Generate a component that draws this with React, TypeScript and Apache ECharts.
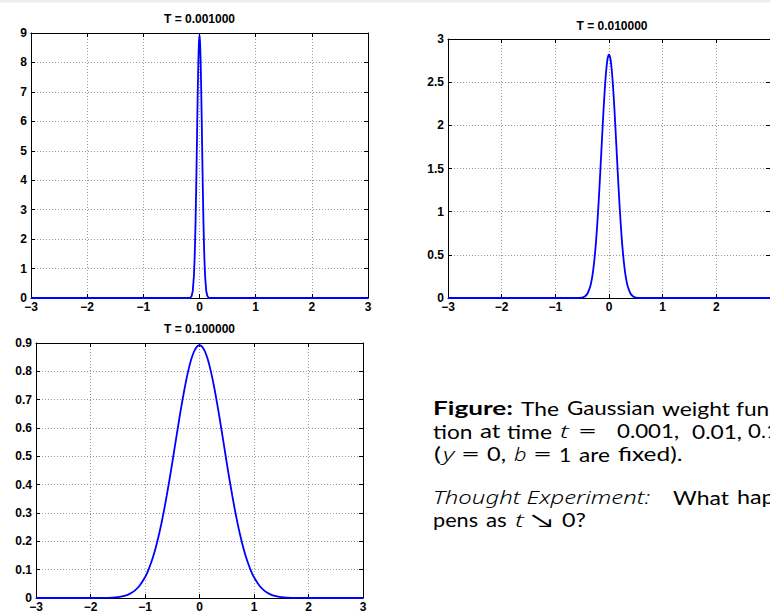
import React, { useEffect, useRef } from "react";
import * as echarts from "echarts";

// ---- data ----
const titles = ["T = 0.001000", "T = 0.010000", "T = 0.100000"];

const x1 = [-3, -0.2, -0.16, -0.14, -0.12, -0.1, -0.09, -0.08, -0.07, -0.06, -0.05, -0.04, -0.03, -0.02, -0.01, 0,
  0.01, 0.02, 0.03, 0.04, 0.05, 0.06, 0.07, 0.08, 0.09, 0.1, 0.12, 0.14, 0.16, 0.2, 3];
const y1 = [0, 0, 0.015, 0.066, 0.24, 0.73, 1.18, 1.8, 2.62, 3.63, 4.77, 5.98, 7.12, 8.07, 8.7, 8.92,
  8.7, 8.07, 7.12, 5.98, 4.77, 3.63, 2.62, 1.8, 1.18, 0.73, 0.24, 0.066, 0.015, 0, 0];

const x2 = [-3, -0.6, -0.5, -0.45, -0.4, -0.35, -0.325, -0.3, -0.275, -0.25, -0.225, -0.2, -0.175, -0.15, -0.125, -0.1, -0.075, -0.05, -0.025, 0,
  0.025, 0.05, 0.075, 0.1, 0.125, 0.15, 0.175, 0.2, 0.225, 0.25, 0.275, 0.3, 0.325, 0.35, 0.4, 0.45, 0.5, 0.6, 3];
const y2 = [0, 0, 0.005, 0.018, 0.052, 0.132, 0.201, 0.297, 0.426, 0.59, 0.796, 1.04, 1.312, 1.61, 1.909, 2.2, 2.451, 2.65, 2.777, 2.82,
  2.777, 2.65, 2.451, 2.2, 1.909, 1.61, 1.312, 1.04, 0.796, 0.59, 0.426, 0.297, 0.201, 0.132, 0.052, 0.018, 0.005, 0, 0];

const x3 = [-3, -2, -1.8, -1.6, -1.5, -1.4, -1.3, -1.2, -1.1, -1.0, -0.95, -0.9, -0.85, -0.8, -0.75, -0.7, -0.65, -0.6, -0.55, -0.5, -0.45,
  -0.4, -0.35, -0.3, -0.25, -0.2, -0.15, -0.1, -0.05, 0,
  0.05, 0.1, 0.15, 0.2, 0.25, 0.3, 0.35, 0.4, 0.45, 0.5, 0.55, 0.6, 0.65, 0.7, 0.75, 0.8, 0.85, 0.9, 0.95, 1.0,
  1.1, 1.2, 1.3, 1.4, 1.5, 1.6, 1.8, 2, 3];
const y3 = [0, 0, 0.0003, 0.0015, 0.0032, 0.0066, 0.013, 0.0244, 0.0433, 0.0732, 0.0934, 0.118, 0.1466, 0.18, 0.2186, 0.262, 0.3102, 0.363, 0.4187, 0.477, 0.5377,
  0.598, 0.6567, 0.712, 0.763, 0.807, 0.8432, 0.87, 0.8865, 0.892,
  0.8865, 0.87, 0.8432, 0.807, 0.763, 0.712, 0.6567, 0.598, 0.5377, 0.477, 0.4187, 0.363, 0.3102, 0.262, 0.2186, 0.18, 0.1466, 0.118, 0.0934, 0.0732,
  0.0433, 0.0244, 0.013, 0.0066, 0.0032, 0.0015, 0.0003, 0, 0];

const yMax = [9, 3, 0.9];
const yStep = [1, 0.5, 0.1];

const FONT = "Liberation Sans";
const TEXTFONT = "Lato";
const ITFONT = "Noto Sans";

function zip(xs: number[], ys: number[]) {
  return xs.map((x, i) => [x, ys[i]]);
}

export default function App() {
  const ref = useRef<HTMLDivElement>(null);
  useEffect(() => {
    if (!ref.current) return;
    const chart = echarts.init(ref.current, undefined, { renderer: "svg" });
    const grids = [
      { left: 31, top: 33, width: 337, height: 265 },
      { left: 448, top: 39, width: 328, height: 259 },
      { left: 36, top: 343, width: 327, height: 259 },
    ];
    const lineStyle = { color: "#000", width: 1 };
    const tick = { show: true, inside: true, length: 4, lineStyle: { color: "#000", width: 1 } };
    const split = { show: true, lineStyle: { color: "#9a9a9a", width: 1, type: [1, 2] as any } };
    const label = { color: "#000", fontWeight: "bold" as const, fontSize: 12, fontFamily: FONT };
    const xFmt = (v: number) => (v < 0 ? "\u2212" + -v : String(v));
    const yFmt = (v: number) => String(+v.toFixed(1));

    const xAxis: any[] = [];
    const yAxis: any[] = [];
    const series: any[] = [];
    const data = [zip(x1, y1), zip(x2, y2), zip(x3, y3)];
    grids.forEach((g, i) => {
      xAxis.push({
        type: "value", gridIndex: i, min: -3, max: 3, interval: 1, position: "bottom",
        axisLine: { show: true, onZero: false, lineStyle }, axisTick: tick,
        axisLabel: { ...label, margin: 3, formatter: xFmt, showMaxLabel: i !== 1 }, splitLine: split,
      });
      xAxis.push({
        type: "value", gridIndex: i, min: -3, max: 3, interval: 1, position: "top",
        axisLine: { show: true, onZero: false, lineStyle }, axisTick: tick,
        axisLabel: { show: false }, splitLine: { show: false },
      });
      yAxis.push({
        type: "value", gridIndex: i, min: 0, max: yMax[i], interval: yStep[i], position: "left",
        axisLine: { show: true, onZero: false, lineStyle }, axisTick: tick,
        axisLabel: { ...label, margin: 4, formatter: yFmt }, splitLine: split,
      });
      yAxis.push({
        type: "value", gridIndex: i, min: 0, max: yMax[i], interval: yStep[i], position: "right",
        axisLine: { show: true, onZero: false, lineStyle }, axisTick: tick,
        axisLabel: { show: false }, splitLine: { show: false },
      });
      series.push({
        type: "line", xAxisIndex: i * 2, yAxisIndex: i * 2, data: data[i],
        showSymbol: false, symbol: "none", clip: false, smooth: i === 0 ? false : 0.2,
        lineStyle: { color: "#0000ff", width: 1.8 }, z: 5,
      });
    });

    // body text: the reference is horizontally stretched; each word is widened to its measured span
    const styleFor = (text: string, kind: string) => ({
      text, fill: "#000", fontSize: 19,
      fontFamily: kind === "it" ? ITFONT : TEXTFONT,
      fontStyle: kind === "it" ? "italic" : "normal",
      fontWeight: kind === "bold" ? "bold" : kind === "it" ? 300 : "normal",
      verticalAlign: "middle",
    });
    const w = (x: number, y: number, text: string, width: number, kind: "up" | "it" | "bold" = "up") => {
      const style: any = styleFor(text, kind);
      let sx = 1.2;
      try {
        const t = new (echarts.graphic as any).Text({ style });
        const r = t.getBoundingRect();
        if (r && r.width > 0) sx = width / r.width;
      } catch (e) { /* keep default */ }
      return { type: "text", x, y, scaleX: sx, style };
    };
    const ttl = (x: number, y: number, text: string) => ({
      type: "text", x, y,
      style: { text, fill: "#000", fontSize: 12, fontWeight: "bold", fontFamily: FONT, align: "center", verticalAlign: "middle" },
    });

    const L1 = 408, L2 = 431, L3 = 454, L4 = 497, L5 = 520;
    const graphic: any[] = [
      { type: "rect", shape: { x: 0, y: 0, width: 770, height: 2.5 }, style: { fill: "#ececec" } },
      ttl(199.5, 19, titles[0]),
      ttl(612, 26, titles[1]),
      ttl(199.5, 329, titles[2]),
      w(433, L1, "Figure:", 80, "bold"),
      w(521, L1, "The", 38),
      w(567, L1, "Gaussian", 88),
      w(662, L1, "weight", 68),
      w(736, L1, "func", 44),
      w(433, L2, "tion", 39.5),
      w(480, L2, "at", 20.5),
      w(507, L2, "time", 45),
      w(560, L2, "t", 8.8, "it"),
      w(578, L2, "=", 19),
      w(617, L2, "0.001,", 62),
      w(692, L2, "0.01,", 50),
      w(748, L2, "0.1", 31),
      w(434, L3, "(", 7),
      w(443, L3, "y", 11.3, "it"),
      w(461, L3, "=", 19),
      w(487, L3, "0,", 19),
      w(514, L3, "b", 12.5, "it"),
      w(533, L3, "=", 19),
      w(559, L3, "1", 12.2),
      w(579, L3, "are", 31),
      w(618, L3, "fixed).", 64.5),
      w(433, L4, "Thought Experiment:", 217, "it"),
      w(673, L4, "What", 56),
      w(737, L4, "hap", 37.7),
      w(433, L5, "pens", 45),
      w(486, L5, "as", 20.8),
      w(515, L5, "t", 8.8, "it"),
      w(531, L5, "\u2198", 22),
      w(562, L5, "0?", 23.9),
    ];

    chart.setOption({
      animation: false,
      grid: grids.map((g) => ({ ...g, containLabel: false })),
      xAxis, yAxis, series, graphic,
    });
    return () => chart.dispose();
  }, []);
  return <div ref={ref} style={{ position: "absolute", left: 0, top: 0, width: 770, height: 613, background: "#fff" }} />;
}
